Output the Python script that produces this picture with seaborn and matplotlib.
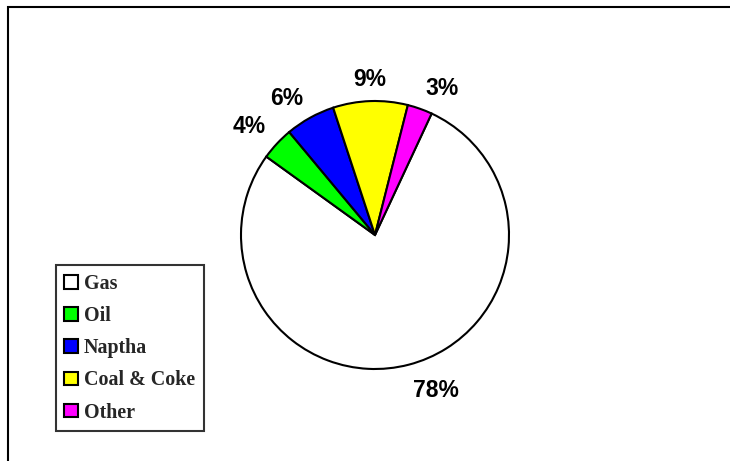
import matplotlib
matplotlib.use("Agg")
import numpy as np
import matplotlib.pyplot as plt
import seaborn as sns
from matplotlib.patches import Rectangle

categories = ["Gas", "Oil", "Naptha", "Coal & Coke", "Other"]
shares = [78, 4, 6, 9, 3]
colors = ["#FFFFFF", "#00FF00", "#0000FF", "#FFFF00", "#FF00FF"]

sns.set_theme(style="white")
plt.rcParams["font.family"] = ["Liberation Sans", "DejaVu Sans"]

W, H = 730, 461
fig = plt.figure(figsize=(W / 100, H / 100), dpi=100)
fig.patch.set_facecolor("white")

# outer frame (only top and left edges visible)
frame = Rectangle((7.5 / W, -0.2), 1.5, (H - 6.5) / H + 0.2,
                  transform=fig.transFigure, fill=False, edgecolor="black",
                  linewidth=1.5, clip_on=False)
fig.patches.append(frame)

cx, cy, r = 375, 235, 134
ax = fig.add_axes([(cx - r) / W, (H - cy - r) / H, 2 * r / W, 2 * r / H])
palette = sns.color_palette(colors)
wedges, texts, autotexts = ax.pie(
    shares, colors=palette, startangle=65, counterclock=False,
    autopct="%1.0f%%", pctdistance=1.21,
    wedgeprops=dict(edgecolor="black", linewidth=1.5),
    textprops=dict(fontsize=16.5, fontweight="bold", color="black",
                   family=["Liberation Sans", "DejaVu Sans"]),
)
# Excel-style outside-end label placement: label corner anchored just outside the rim
for w, t in zip(wedges, autotexts):
    ang = np.deg2rad((w.theta1 + w.theta2) / 2)
    x, y = np.cos(ang), np.sin(ang)
    t.set_position((1.112 * x, 1.112 * y))
    t.set_ha("left" if x > 0.1 else ("right" if x < -0.1 else "center"))
    t.set_va("top" if y < 0 else "baseline")

ax.set_xlim(-1, 1)
ax.set_ylim(-1, 1)
ax.set_aspect("equal")
ax.axis("off")

leg = fig.legend(
    wedges, categories, loc="lower left",
    bbox_to_anchor=(56 / W, (H - 431) / H), bbox_transform=fig.transFigure,
    borderaxespad=0, frameon=True, fancybox=False, shadow=False,
    prop=dict(family=["Liberation Serif", "DejaVu Serif"], weight="bold", size=14.4),
    handlelength=0.68, handleheight=0.68, handletextpad=0.3,
    labelspacing=0.61, borderpad=0.42,
)
leg.get_frame().set_edgecolor("black")
leg.get_frame().set_linewidth(1.5)
for h in leg.legend_handles:
    h.set_edgecolor("black")
    h.set_linewidth(1.5)

fig.savefig("out.png", dpi=100)
